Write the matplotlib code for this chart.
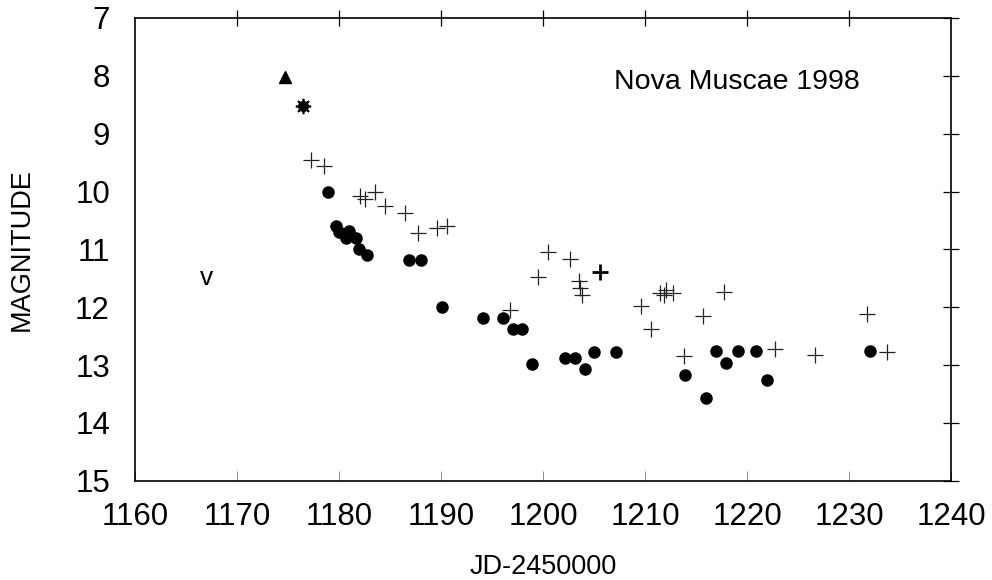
import matplotlib
matplotlib.use("Agg")
import matplotlib.pyplot as plt
import numpy as np

plt.rcParams["font.family"] = ["Liberation Sans", "DejaVu Sans"]

# filled circles
dot_jd = [1178.9, 1179.7, 1180.0, 1180.95, 1180.7, 1181.7, 1182.0, 1182.7,
          1186.9, 1188.0, 1190.1, 1194.1, 1196.05, 1197.0, 1197.9, 1198.9,
          1202.1, 1203.1, 1204.1, 1205.0, 1207.1, 1213.9, 1216.0, 1216.95,
          1217.9, 1219.1, 1220.9, 1221.9, 1232.0]
dot_mag = [10.0, 10.6, 10.70, 10.69, 10.8, 10.8, 11.0, 11.1,
           11.19, 11.19, 11.99, 12.19, 12.19, 12.38, 12.38, 12.98,
           12.88, 12.88, 13.07, 12.78, 12.78, 13.17, 13.56, 12.76,
           12.97, 12.76, 12.76, 13.26, 12.75]

# crosses
cross_jd = [1177.3, 1178.5, 1182.1, 1182.5, 1183.5, 1184.5, 1186.5, 1187.7,
            1189.6, 1190.6, 1196.8, 1199.5, 1200.5, 1202.6, 1203.5, 1203.6,
            1203.8, 1209.6, 1210.55, 1211.5, 1211.8, 1212.0, 1212.7, 1213.8,
            1215.7, 1217.7, 1222.7, 1226.6, 1231.7, 1233.7]
cross_mag = [9.45, 9.55, 10.07, 10.13, 10.0, 10.25, 10.37, 10.72,
             10.63, 10.6, 12.05, 11.48, 11.05, 11.16, 11.55, 11.66,
             11.79, 11.98, 12.37, 11.75, 11.78, 11.70, 11.76, 12.85,
             12.15, 11.73, 12.72, 12.83, 12.12, 12.78]

# special points
bold_jd, bold_mag = [1205.6], [11.39]
tri_jd, tri_mag = [1174.7], [8.02]
star_jd, star_mag = [1176.5], [8.52]
limit_jd, limit_mag = 1167.0, 11.5

fig = plt.figure(figsize=(9.92, 5.8), dpi=100)
ax = fig.add_axes([0.136, 0.171, 0.823, 0.798])

ax.plot(cross_jd, cross_mag, ls="none", marker="+", ms=12, mew=0.9,
        color="#222222")
ax.plot(bold_jd, bold_mag, ls="none", marker="+", ms=12, mew=2.0,
        color="black")
ax.plot(dot_jd, dot_mag, ls="none", marker="o", ms=8, color="black")
ax.plot(tri_jd, tri_mag, ls="none", marker="^", ms=9, color="black")
ax.plot(star_jd, star_mag, ls="none", marker="o", ms=7, color="black")
ax.plot(star_jd, star_mag, ls="none", marker=(8, 2, 0), ms=11, mew=1.2,
        color="black")
ax.text(limit_jd, limit_mag, "v", fontsize=19, ha="center", va="center")

ax.text(1206.9, 8.1, "Nova Muscae 1998", fontsize=20.5, ha="left",
        va="center")

ax.set_xlim(1160, 1240)
ax.set_ylim(15, 7)
ax.set_xticks(np.arange(1160, 1241, 10))
ax.set_yticks(np.arange(7, 16, 1))

for s in ax.spines.values():
    s.set_linewidth(1.2)

ax.tick_params(axis="both", labelsize=22.5)
ax.tick_params(axis="x", which="major", direction="in", length=7, width=0.6,
               color="#777777", top=False, pad=15)
ax.tick_params(axis="y", which="major", left=False, right=True,
               direction="inout", length=12, width=0.9, pad=12)
# top ticks crossing the frame
sec = ax.secondary_xaxis("top")
sec.set_xticks(np.arange(1170, 1231, 10))
sec.tick_params(direction="inout", length=12, width=0.9, labeltop=False)
sec.spines["top"].set_visible(False)

ax.set_xlabel("JD-2450000", fontsize=19.5, labelpad=16)
ax.set_ylabel("MAGNITUDE", fontsize=19.5, labelpad=29)

fig.savefig("out.png", dpi=100)
